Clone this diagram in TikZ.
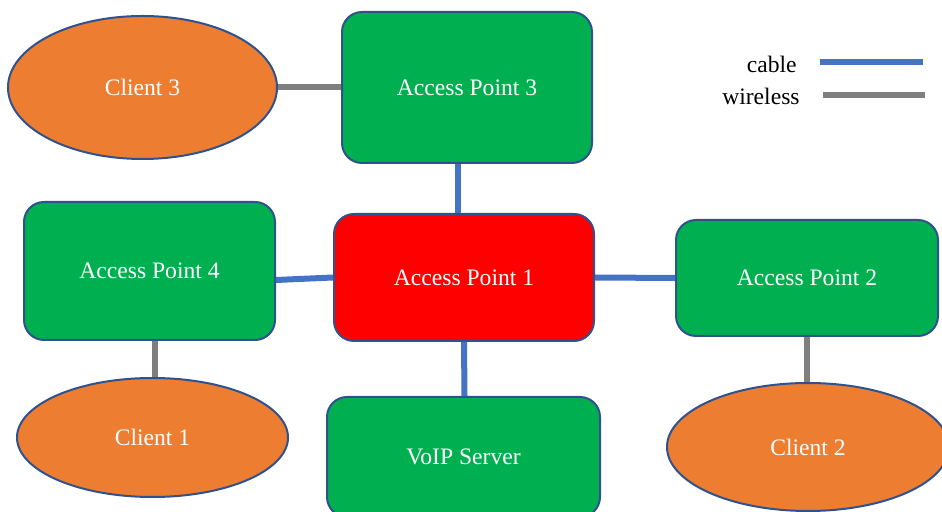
\documentclass[tikz,border=0pt]{standalone}
\usepackage{fontspec}
\setmainfont{Liberation Serif}
\usepackage{tikz}
\usetikzlibrary{positioning, shapes.geometric}

\definecolor{apgreen}{HTML}{00B050}
\definecolor{apred}{HTML}{FF0000}
\definecolor{clorange}{HTML}{ED7D31}
\definecolor{edgeblue}{HTML}{2F528F}
\definecolor{cableblue}{HTML}{4472C4}
\definecolor{wiregray}{HTML}{7F7F7F}

\begin{document}
\begin{tikzpicture}[x=0.5pt,y=-0.5pt,font=\fontsize{11.8}{14}\selectfont,
    apbox/.style={draw=edgeblue, line width=1pt, rounded corners=10pt, fill=apgreen, text=white, inner sep=0pt},
    client/.style={ellipse, draw=edgeblue, line width=1pt, fill=clorange, text=white, inner sep=0pt},
    cable/.style={draw=cableblue, line width=3pt},
    wireless/.style={draw=wiregray, line width=3pt},]

    \useasboundingbox (0,0) rectangle (942,512);

    % access points and server
    \node[apbox, minimum width=125pt, minimum height=75.5pt] (ap3) at (467,87.5) {Access Point 3};
    \node[apbox, minimum width=125.5pt, minimum height=69pt] (ap4) at (149.5,271) {Access Point 4};
    \node[apbox, fill=apred, minimum width=130pt, minimum height=63.5pt] (ap1) at (464,277.5) {Access Point 1};
    \node[apbox, minimum width=131pt, minimum height=58pt] (ap2) at (807,278) {Access Point 2};
    \node[apbox, minimum width=136.5pt, minimum height=60pt] (voip) at (463.5,457) {VoIP Server};

    % clients
    \node[client, minimum width=134.5pt, minimum height=71.5pt] (c3) at (142.5,87.5) {Client 3};
    \node[client, minimum width=135.5pt, minimum height=59.5pt] (c1) at (152.5,437.5) {Client 1};
    \node[client, minimum width=141pt, minimum height=64pt] (c2) at (808,447) {Client 2};

    % cables
    \draw[cable] ([xshift=-4.5pt]ap3.south) -- ([xshift=-3pt]ap1.north);
    \draw[cable] ([yshift=-4.5pt]ap4.east) -- (ap1.west);
    \draw[cable] (ap1.east) -- (ap2.west);
    \draw[cable] (ap1.south) -- ([xshift=0.5pt]voip.north);

    % wireless links
    \draw[wireless] (c3.east) -- (ap3.west);
    \draw[wireless] ([xshift=2.5pt]ap4.south) -- ([xshift=1pt]c1.north);
    \draw[wireless] (ap2.south) -- ([xshift=-0.5pt]c2.north);

    % legend
    \node[anchor=east, inner sep=0pt] (lcable) at (797,64) {cable};
    \node[anchor=east, inner sep=0pt] (lwire) at (800,96) {wireless};
    \coordinate (lc1) at (820,62);
    \coordinate (lc2) at (923,62);
    \coordinate (lw1) at (823,95);
    \coordinate (lw2) at (925,95);
    \draw[cable] (lc1) -- (lc2);
    \draw[wireless] (lw1) -- (lw2);

\end{tikzpicture}
\end{document}
